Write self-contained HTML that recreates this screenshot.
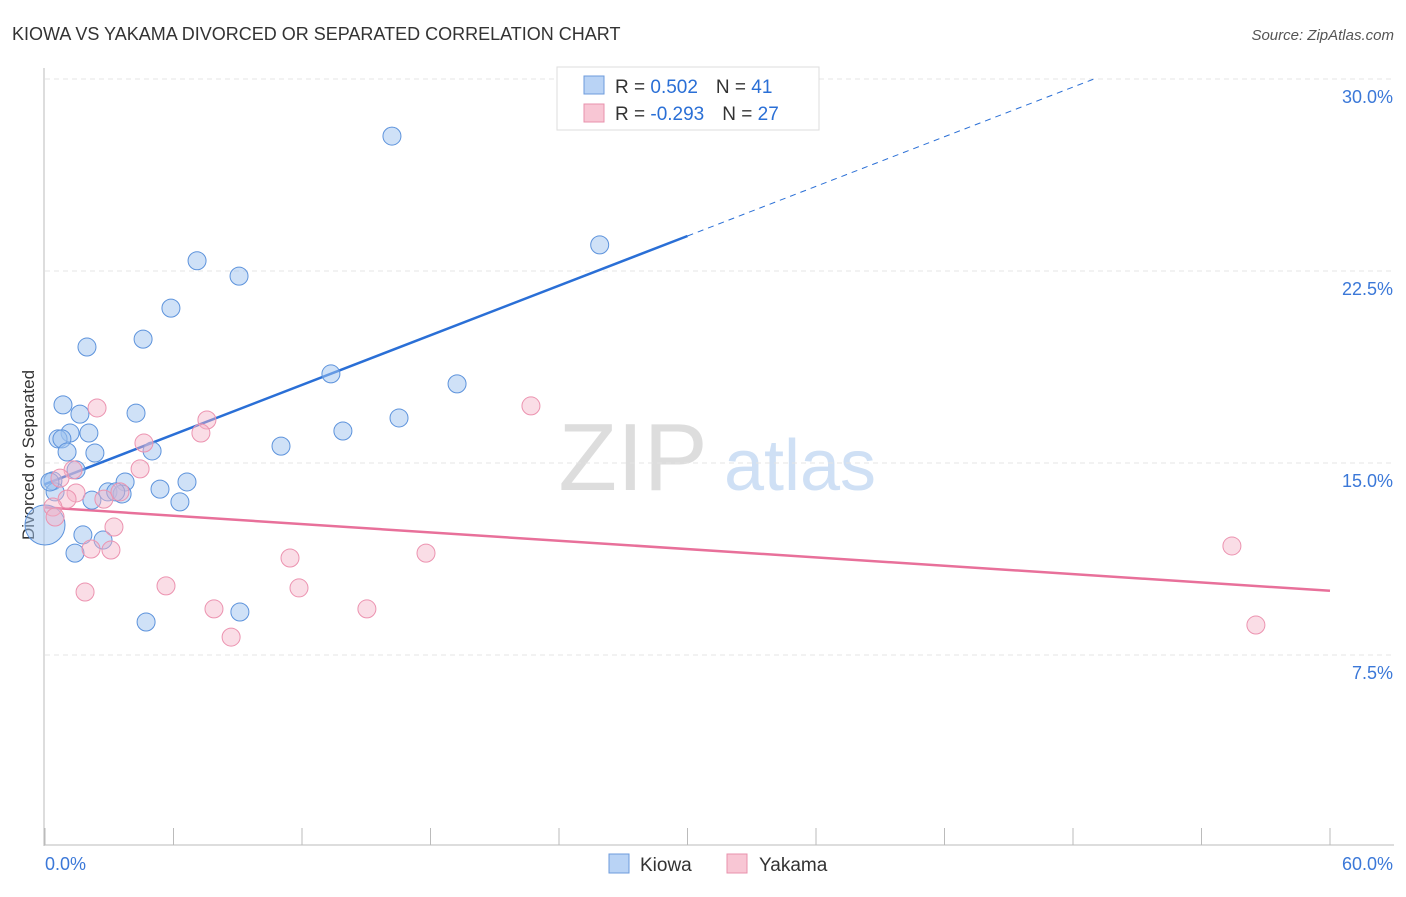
<!DOCTYPE html>
<html><head><meta charset="utf-8"><style>
body{margin:0;background:#fff;font-family:"Liberation Sans",sans-serif;}
svg text{font-family:"Liberation Sans",sans-serif;}
</style></head><body>
<svg id="chart" width="1406" height="892">
<text x="12" y="40" font-size="18" fill="#333">KIOWA VS YAKAMA DIVORCED OR SEPARATED CORRELATION CHART</text>
<text x="1394" y="40" font-size="15" fill="#555" text-anchor="end" font-style="italic">Source: ZipAtlas.com</text>
<text x="34" y="455" font-size="17" fill="#333" text-anchor="middle" transform="rotate(-90 34 455)">Divorced or Separated</text>
<g><text x="633" y="490" font-size="96" fill="#ddd" font-family="Liberation Serif" text-anchor="middle">ZIP</text><text x="800" y="490" font-size="72" fill="#cfe0f5" text-anchor="middle">atlas</text></g>
<g id="grid"></g><g id="axes"></g><g id="lines"></g><g id="points"></g>
<g>
<rect x="557" y="67" width="262" height="63" fill="#fff" stroke="#ddd"/>
<rect x="584" y="76" width="20" height="18" fill="#b9d3f5" stroke="#6d9bdc"/>
<text x="615" y="93" font-size="19" fill="#333">R = <tspan fill="#2a6fd6"> 0.502</tspan><tspan dx="18">N = </tspan><tspan fill="#2a6fd6">41</tspan></text>
<rect x="584" y="104" width="20" height="18" fill="#f8c6d4" stroke="#e891ac"/>
<text x="615" y="120" font-size="19" fill="#333">R = <tspan fill="#2a6fd6">-0.293</tspan><tspan dx="18">N = </tspan><tspan fill="#2a6fd6">27</tspan></text>
</g>
<g>
<rect x="609" y="854" width="20" height="19" fill="#b9d3f5" stroke="#6d9bdc"/>
<text x="640" y="871" font-size="19" fill="#333">Kiowa</text>
<rect x="727" y="854" width="20" height="19" fill="#f8c6d4" stroke="#e891ac"/>
<text x="759" y="871" font-size="19" fill="#333">Yakama</text>
</g>
</svg>
<script>
const kiowaX=[16.2,25.9,7.1,9.06,5.88,1.96,4.58,13.35,19.24,0.84,1.63,4.25,16.53,1.17,2.05,0.61,0.79,13.91,11.02,1.03,2.33,5.0,1.45,0.37,3.74,6.63,0.47,2.94,3.6,5.37,2.19,6.3,1.77,2.71,1.4,9.1,4.72,0,0.23,3.3];
const kiowaY=[27.77,23.52,22.9,22.3,21.05,19.53,19.84,18.48,18.09,17.27,16.91,16.95,16.76,16.17,16.17,15.94,15.94,16.25,15.66,15.43,15.39,15.47,14.73,14.3,14.26,14.26,13.87,13.87,13.79,13.98,13.55,13.48,12.19,11.99,11.48,9.18,8.79,12.58,14.26,13.87];
const yakamaX=[2.43,7.56,7.28,4.62,22.69,1.31,4.44,0.7,1.45,1.03,2.75,0.37,0.47,3.22,2.15,3.08,11.44,17.79,55.42,5.65,1.87,11.86,7.89,15.03,8.69,56.54,3.5];
const yakamaY=[17.15,16.68,16.17,15.78,17.23,14.73,14.77,14.41,13.83,13.59,13.59,13.28,12.89,12.5,11.64,11.6,11.29,11.48,11.76,10.2,9.96,10.12,9.3,9.3,8.2,8.67,13.87];
const yTicks=[7.5,15,22.5,30];
const xTicks=[0,6,12,18,24,30,36,42,48,54,60];
const NS="http://www.w3.org/2000/svg";
const sx=v=>45+v/60*1285;
const sy=v=>847-v/7.5*192;
function mk(tag,attrs,parent){const e=document.createElementNS(NS,tag);for(const k in attrs)e.setAttribute(k,attrs[k]);document.getElementById(parent).appendChild(e);return e;}
yTicks.forEach(t=>{
 const g=mk('line',{x1:45,x2:1394,y1:sy(t),y2:sy(t),stroke:'#e4e4e4','stroke-dasharray':'5,4'},'grid');
 
 
 const l=mk('text',{x:1393,y:sy(t)+24,'font-size':18,fill:'#3b78d8','text-anchor':'end'},'axes');
 l.textContent=t.toFixed(1)+'%';
 
 
});
let a=mk('line',{x1:44,x2:44,y1:68,y2:846,stroke:'#bbb'},'axes');


a=mk('line',{x1:44,x2:1394,y1:845,y2:845,stroke:'#bbb'},'axes');


xTicks.forEach(t=>{
 const k=mk('line',{x1:sx(t),x2:sx(t),y1:828,y2:845,stroke:'#bbb'},'axes');
 
 
});
[[0,'start',45],[60,'end',1393]].forEach(([v,anc,x])=>{
 const l=mk('text',{x:x,y:870,'font-size':18,fill:'#3b78d8','text-anchor':anc},'axes');
 l.textContent=v.toFixed(1)+'%';
 
 
});
function fit(X,Y){const n=X.length;let mx=0,my=0;for(let i=0;i<n;i++){mx+=X[i];my+=Y[i];}mx/=n;my/=n;let sxy=0,sxx=0;for(let i=0;i<n;i++){sxy+=(X[i]-mx)*(Y[i]-my);sxx+=(X[i]-mx)**2;}const b=sxy/sxx;return [my-b*mx,b];}
const [ka,kb]=fit(kiowaX,kiowaY);
const [ya,yb]=fit(yakamaX,yakamaY);
let ln=mk('line',{x1:sx(0),y1:sy(ka),x2:sx(30),y2:sy(ka+kb*30),stroke:'#2a6fd6','stroke-width':2.5},'lines');


const xEnd=Math.min(60,(30-ka)/kb);
ln=mk('line',{x1:sx(30),y1:sy(ka+kb*30),x2:sx(xEnd),y2:sy(ka+kb*xEnd),stroke:'#2a6fd6','stroke-width':1,'stroke-dasharray':'6,5'},'lines');


ln=mk('line',{x1:sx(0),y1:sy(ya),x2:sx(60),y2:sy(ya+yb*60),stroke:'#e8709a','stroke-width':2.5},'lines');


kiowaX.forEach((x,i)=>{
 const c=mk('circle',{cx:sx(x),cy:sy(kiowaY[i]),r:(x===0?20:9),fill:'rgba(160,195,240,0.5)',stroke:'#5d93dc','stroke-width':1},'points');
 
 
});
yakamaX.forEach((x,i)=>{
 const c=mk('circle',{cx:sx(x),cy:sy(yakamaY[i]),r:9,fill:'rgba(245,180,200,0.45)',stroke:'#ec93b0','stroke-width':1},'points');
 
 
});
</script>
</body></html>
